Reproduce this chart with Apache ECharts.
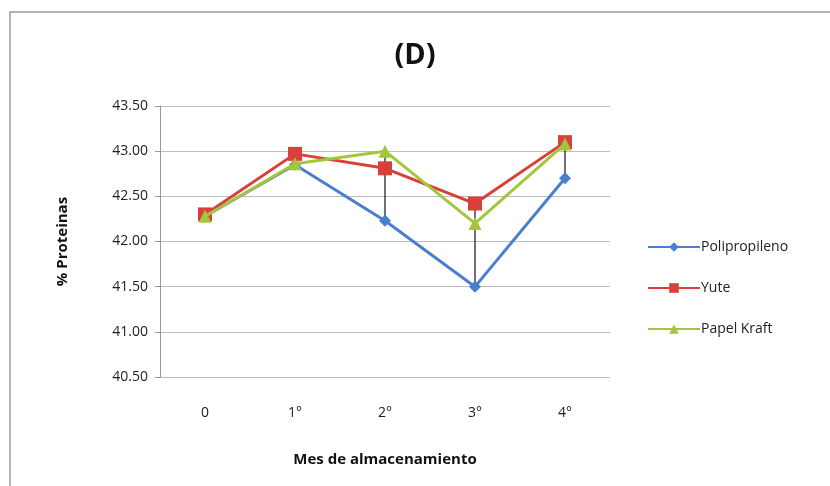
<!DOCTYPE html>
<html><head><meta charset="utf-8">
<script src="https://cdn.jsdelivr.net/npm/echarts@6/dist/echarts.min.js"></script>
<style>html,body{margin:0;padding:0;background:#fff}#c{width:830px;height:486px}</style>
</head><body><div id="c"></div>
<script>
var categories = ['0', '1°', '2°', '3°', '4°'];
var polipropileno = [42.28, 42.85, 42.23, 41.50, 42.70];
var yute = [42.30, 42.97, 42.81, 42.42, 43.10];
var papelKraft = [42.28, 42.86, 43.00, 42.20, 43.08];
var yTicks = [40.5, 41.0, 41.5, 42.0, 42.5, 43.0, 43.5];

var hiLo = categories.map(function (c, i) {
  var v = [polipropileno[i], yute[i], papelKraft[i]];
  return [i, Math.min.apply(null, v), Math.max.apply(null, v)];
});

var font = '"Open Sans", "Noto Sans", sans-serif';
var chart = echarts.init(document.getElementById('c'), null, {renderer: 'canvas'});
chart.setOption({
  backgroundColor: '#fff',
  animation: false,
  textStyle: {fontFamily: font},
  graphic: [{type: 'rect', shape: {x: 10, y: 12, width: 840, height: 500},
    style: {fill: 'none', stroke: '#9a9a9a', lineWidth: 1.5}, silent: true}],
  title: {text: '(D)', left: 'center', top: 36,
    textStyle: {fontFamily: font, fontSize: 29, fontWeight: 'bold', color: '#111'}},
  grid: {left: 160, right: 220, top: 106, bottom: 109},
  legend: {orient: 'vertical', left: 642, top: 235, itemGap: 27, itemWidth: 52, itemHeight: 12,
    data: ['Polipropileno', 'Yute', 'Papel Kraft'],
    textStyle: {fontFamily: font, fontSize: 14, color: '#222', padding: [0, 0, 0, -4]}},
  xAxis: {type: 'category', data: categories, boundaryGap: true,
    name: 'Mes de almacenamiento', nameLocation: 'middle', nameGap: 75,
    nameTextStyle: {fontFamily: font, fontSize: 15, fontWeight: 'bold', color: '#111'},
    axisLine: {show: false}, axisTick: {show: false},
    axisLabel: {fontFamily: font, fontSize: 14, color: '#222', margin: 29}},
  yAxis: {type: 'value', min: 40.5, max: 43.5, interval: 0.5,
    name: '% Proteinas', nameLocation: 'middle', nameGap: 90, nameRotate: 90,
    nameTextStyle: {fontFamily: font, fontSize: 15, fontWeight: 'bold', color: '#111'},
    axisLine: {show: true, lineStyle: {color: '#999'}},
    axisTick: {show: true, length: 5, lineStyle: {color: '#999'}},
    splitLine: {lineStyle: {color: '#bdbdbd'}},
    axisLabel: {fontFamily: font, fontSize: 14, color: '#222', margin: 12,
      formatter: function (v) { return v.toFixed(2); }}},
  series: [
    {type: 'custom', name: 'hilo', data: hiLo, z: 1, silent: true,
      renderItem: function (params, api) {
        var a = api.coord([api.value(0), api.value(1)]);
        var b = api.coord([api.value(0), api.value(2)]);
        return {type: 'line', shape: {x1: a[0], y1: a[1], x2: b[0], y2: b[1]},
          style: {stroke: '#111', lineWidth: 1.2}};
      }},
    {type: 'line', name: 'Polipropileno', data: polipropileno, z: 3,
      symbol: 'diamond', symbolSize: 12, lineStyle: {width: 3, color: '#4a7fd0'},
      itemStyle: {color: '#4a7fd0'}},
    {type: 'line', name: 'Yute', data: yute, z: 4,
      symbol: 'rect', symbolSize: 14, lineStyle: {width: 3, color: '#d9403a'},
      itemStyle: {color: '#d9403a'}},
    {type: 'line', name: 'Papel Kraft', data: papelKraft, z: 5,
      symbol: 'triangle', symbolSize: 13, lineStyle: {width: 3, color: '#a4c63c'},
      itemStyle: {color: '#a4c63c'}}
  ]
});
</script></body></html>
